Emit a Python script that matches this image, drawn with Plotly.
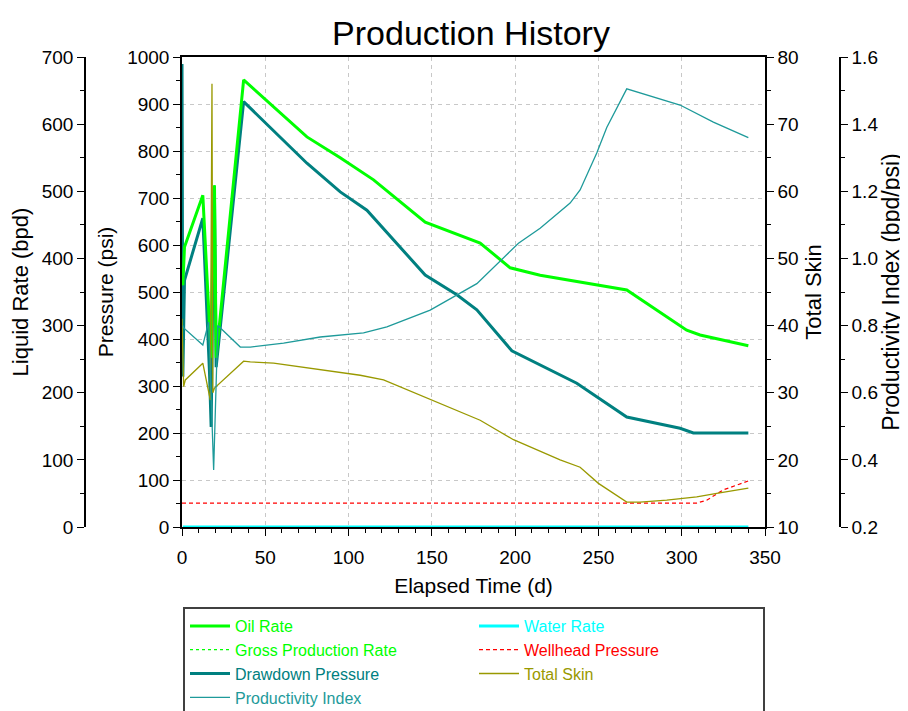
import plotly.graph_objects as go

# ---------------- data ----------------
oil_days = [0.5, 1.5, 12.5, 16.5, 17.5, 18.5, 19.5, 20.5, 37, 75, 95, 115, 146, 179, 197, 215, 267, 303, 311, 340]
oil_rate = [360, 417, 494, 301, 252, 420, 509, 252, 666, 581, 550, 517, 454, 423, 386, 375, 353, 293, 286, 270]

gross_days = [0.5, 1.5, 12.5, 16.5, 17.5, 18.5, 19.5, 20.5, 37, 75, 95, 115, 146, 179, 197, 215, 267, 303, 311, 340]
gross_rate = [360, 417, 494, 301, 252, 420, 509, 252, 666, 581, 550, 517, 454, 423, 386, 375, 353, 293, 286, 270]

water_days = [0.5, 340]
water_rate = [0, 0]

dd_days = [0, 0.5, 1.5, 12.5, 16.5, 17.5, 18.5, 19.5, 20.5, 37, 75, 95, 111, 127, 146, 165, 177, 198, 237, 267, 299, 307, 340]
dd_press = [985, 320, 525, 657, 330, 213, 520, 700, 340, 905, 774, 713, 674, 611, 536, 494, 462, 375, 306, 234, 210, 200, 200]

whp_days = [0, 309, 315, 325, 340]
whp_press = [51, 51, 57, 79, 98]

skin_days = [0, 1, 2, 12.5, 17, 18, 18.5, 19.5, 37, 41, 55, 107, 121, 147, 179, 199, 227, 239, 250, 267, 275, 291, 309, 321, 340]
skin_vals = [41, 30.9, 31.9, 34.4, 28.9, 76, 30, 30.7, 34.7, 34.6, 34.4, 32.6, 31.9, 29.2, 25.9, 23.0, 20.0, 18.9, 16.5, 13.7, 13.7, 14.0, 14.5, 15.0, 15.8]

pi_days = [0.5, 1, 12.5, 16, 19, 21.5, 35, 41, 61, 83, 109, 123, 149, 177, 202, 215, 233, 239, 249, 255, 267, 299, 319, 340]
pi_vals = [0.80, 0.793, 0.742, 0.81, 0.37, 0.80, 0.736, 0.736, 0.748, 0.766, 0.778, 0.796, 0.846, 0.925, 1.045, 1.09, 1.165, 1.204, 1.314, 1.39, 1.505, 1.457, 1.406, 1.36]

x_ticks = [0, 50, 100, 150, 200, 250, 300, 350]

# ---------------- styles ----------------
FONT = "Liberation Sans, Arial, sans-serif"
C_OIL = "#00FF00"
C_WATER = "#00FFFF"
C_DD = "#008080"
C_PI = "#1E9A9A"
C_WHP = "#FF0000"
C_SKIN = "#999900"


def lab(text, color):
    return '<span style="color:%s">%s</span>' % (color, text)


fig = go.Figure()

fig.add_trace(go.Scatter(x=whp_days, y=whp_press, mode="lines", yaxis="y",
                         name=lab("Wellhead Pressure", C_WHP), legendrank=4,
                         line=dict(color=C_WHP, width=1.2, dash="4px,3px")))
fig.add_trace(go.Scatter(x=dd_days, y=dd_press, mode="lines", yaxis="y",
                         name=lab("Drawdown Pressure", C_DD), legendrank=5,
                         line=dict(color=C_DD, width=3)))
fig.add_trace(go.Scatter(x=gross_days, y=gross_rate, mode="lines", yaxis="y2",
                         name=lab("Gross Production Rate", C_OIL), legendrank=3,
                         line=dict(color=C_OIL, width=1.2, dash="dot")))
fig.add_trace(go.Scatter(x=oil_days, y=oil_rate, mode="lines", yaxis="y2",
                         name=lab("Oil Rate", C_OIL), legendrank=1,
                         line=dict(color=C_OIL, width=3)))
fig.add_trace(go.Scatter(x=water_days, y=water_rate, mode="lines", yaxis="y2",
                         name=lab("Water Rate", C_WATER), legendrank=2,
                         line=dict(color=C_WATER, width=3)))
fig.add_trace(go.Scatter(x=skin_days, y=skin_vals, mode="lines", yaxis="y3",
                         name=lab("Total Skin", C_SKIN), legendrank=6,
                         line=dict(color=C_SKIN, width=1.3)))
fig.add_trace(go.Scatter(x=pi_days, y=pi_vals, mode="lines", yaxis="y4",
                         name=lab("Productivity Index", C_PI), legendrank=7,
                         line=dict(color=C_PI, width=1.3)))

# page has an 8px body margin: figure is sized to fill the rest of the window
OFF = 8
W, H = 900, 703
MR = 65                      # right margin keeps the horizontal legend at two columns
PW = W - MR                  # width of the paper area used by domains/positions


def px_x(v):
    return (v - OFF) / PW


def px_y(v):
    return 1 - (v - OFF) / H


axis_common = dict(showline=True, linecolor="black", linewidth=1.5,
                   ticks="outside", ticklen=7, tickwidth=1.3, tickcolor="black",
                   tickfont=dict(family=FONT, size=19, color="black"),
                   zeroline=False, automargin=False)

fig.update_layout(
    width=W, height=H,
    margin=dict(l=0, r=MR, t=0, b=0, autoexpand=False),
    paper_bgcolor="white", plot_bgcolor="white",
    font=dict(family=FONT, color="black"),
    title=dict(text="Production History", x=(471 - OFF) / W, xanchor="center",
               y=1 - (33 - OFF) / H, yanchor="middle", yref="container",
               font=dict(family=FONT, size=34, color="black")),
    xaxis=dict(domain=[px_x(182), px_x(765)], range=[0, 350], tickvals=x_ticks,
               mirror=True, showgrid=True, gridcolor="#C8C8C8", griddash="4px,4px", gridwidth=1,
               ticklabelstandoff=5,
               minor=dict(dtick=10, ticks="outside", ticklen=4, tickcolor="black", showgrid=False),
               title=dict(text="Elapsed Time (d)", standoff=12,
                          font=dict(family=FONT, size=21, color="black")),
               **axis_common),
    yaxis=dict(domain=[px_y(527), px_y(57)], range=[0, 1000], dtick=100, side="left", anchor="x",
               mirror=False, showgrid=True, gridcolor="#C8C8C8", griddash="4px,4px", gridwidth=1,
               minor=dict(dtick=50, ticks="outside", ticklen=4, tickcolor="black", showgrid=False),
               title=dict(text="Pressure (psi)", standoff=8,
                          font=dict(family=FONT, size=21, color="black")),
               **axis_common),
    yaxis2=dict(domain=[px_y(527), px_y(57)], range=[0, 700], dtick=100, side="left", overlaying="y",
                anchor="free", position=px_x(85), showgrid=False,
                minor=dict(dtick=50, ticks="outside", ticklen=4, tickcolor="black"),
                title=dict(text="Liquid Rate (bpd)", standoff=8,
                           font=dict(family=FONT, size=22, color="black")),
                **axis_common),
    yaxis3=dict(domain=[px_y(527), px_y(57)], range=[10, 80], dtick=10, side="right", overlaying="y",
                anchor="x", showgrid=False,
                minor=dict(dtick=5, ticks="outside", ticklen=4, tickcolor="black"),
                title=dict(text="Total Skin", standoff=8,
                           font=dict(family=FONT, size=22, color="black")),
                **axis_common),
    yaxis4=dict(domain=[px_y(527), px_y(57)], range=[0.2, 1.6], dtick=0.2, tickformat=".1f", side="right",
                overlaying="y", anchor="free", position=px_x(840), showgrid=False,
                minor=dict(dtick=0.1, ticks="outside", ticklen=4, tickcolor="black"),
                title=dict(text="Productivity Index (bpd/psi)", standoff=5,
                           font=dict(family=FONT, size=23, color="black")),
                **axis_common),
    legend=dict(orientation="h", x=px_x(183), xanchor="left", y=px_y(607), yanchor="top",
                bgcolor="white", bordercolor="#404040", borderwidth=2,
                entrywidth=234, entrywidthmode="pixels", itemwidth=40,
                font=dict(family=FONT, size=16), traceorder="normal"),
    showlegend=True,
)

fig.write_html("out.html", config={"displayModeBar": False})
